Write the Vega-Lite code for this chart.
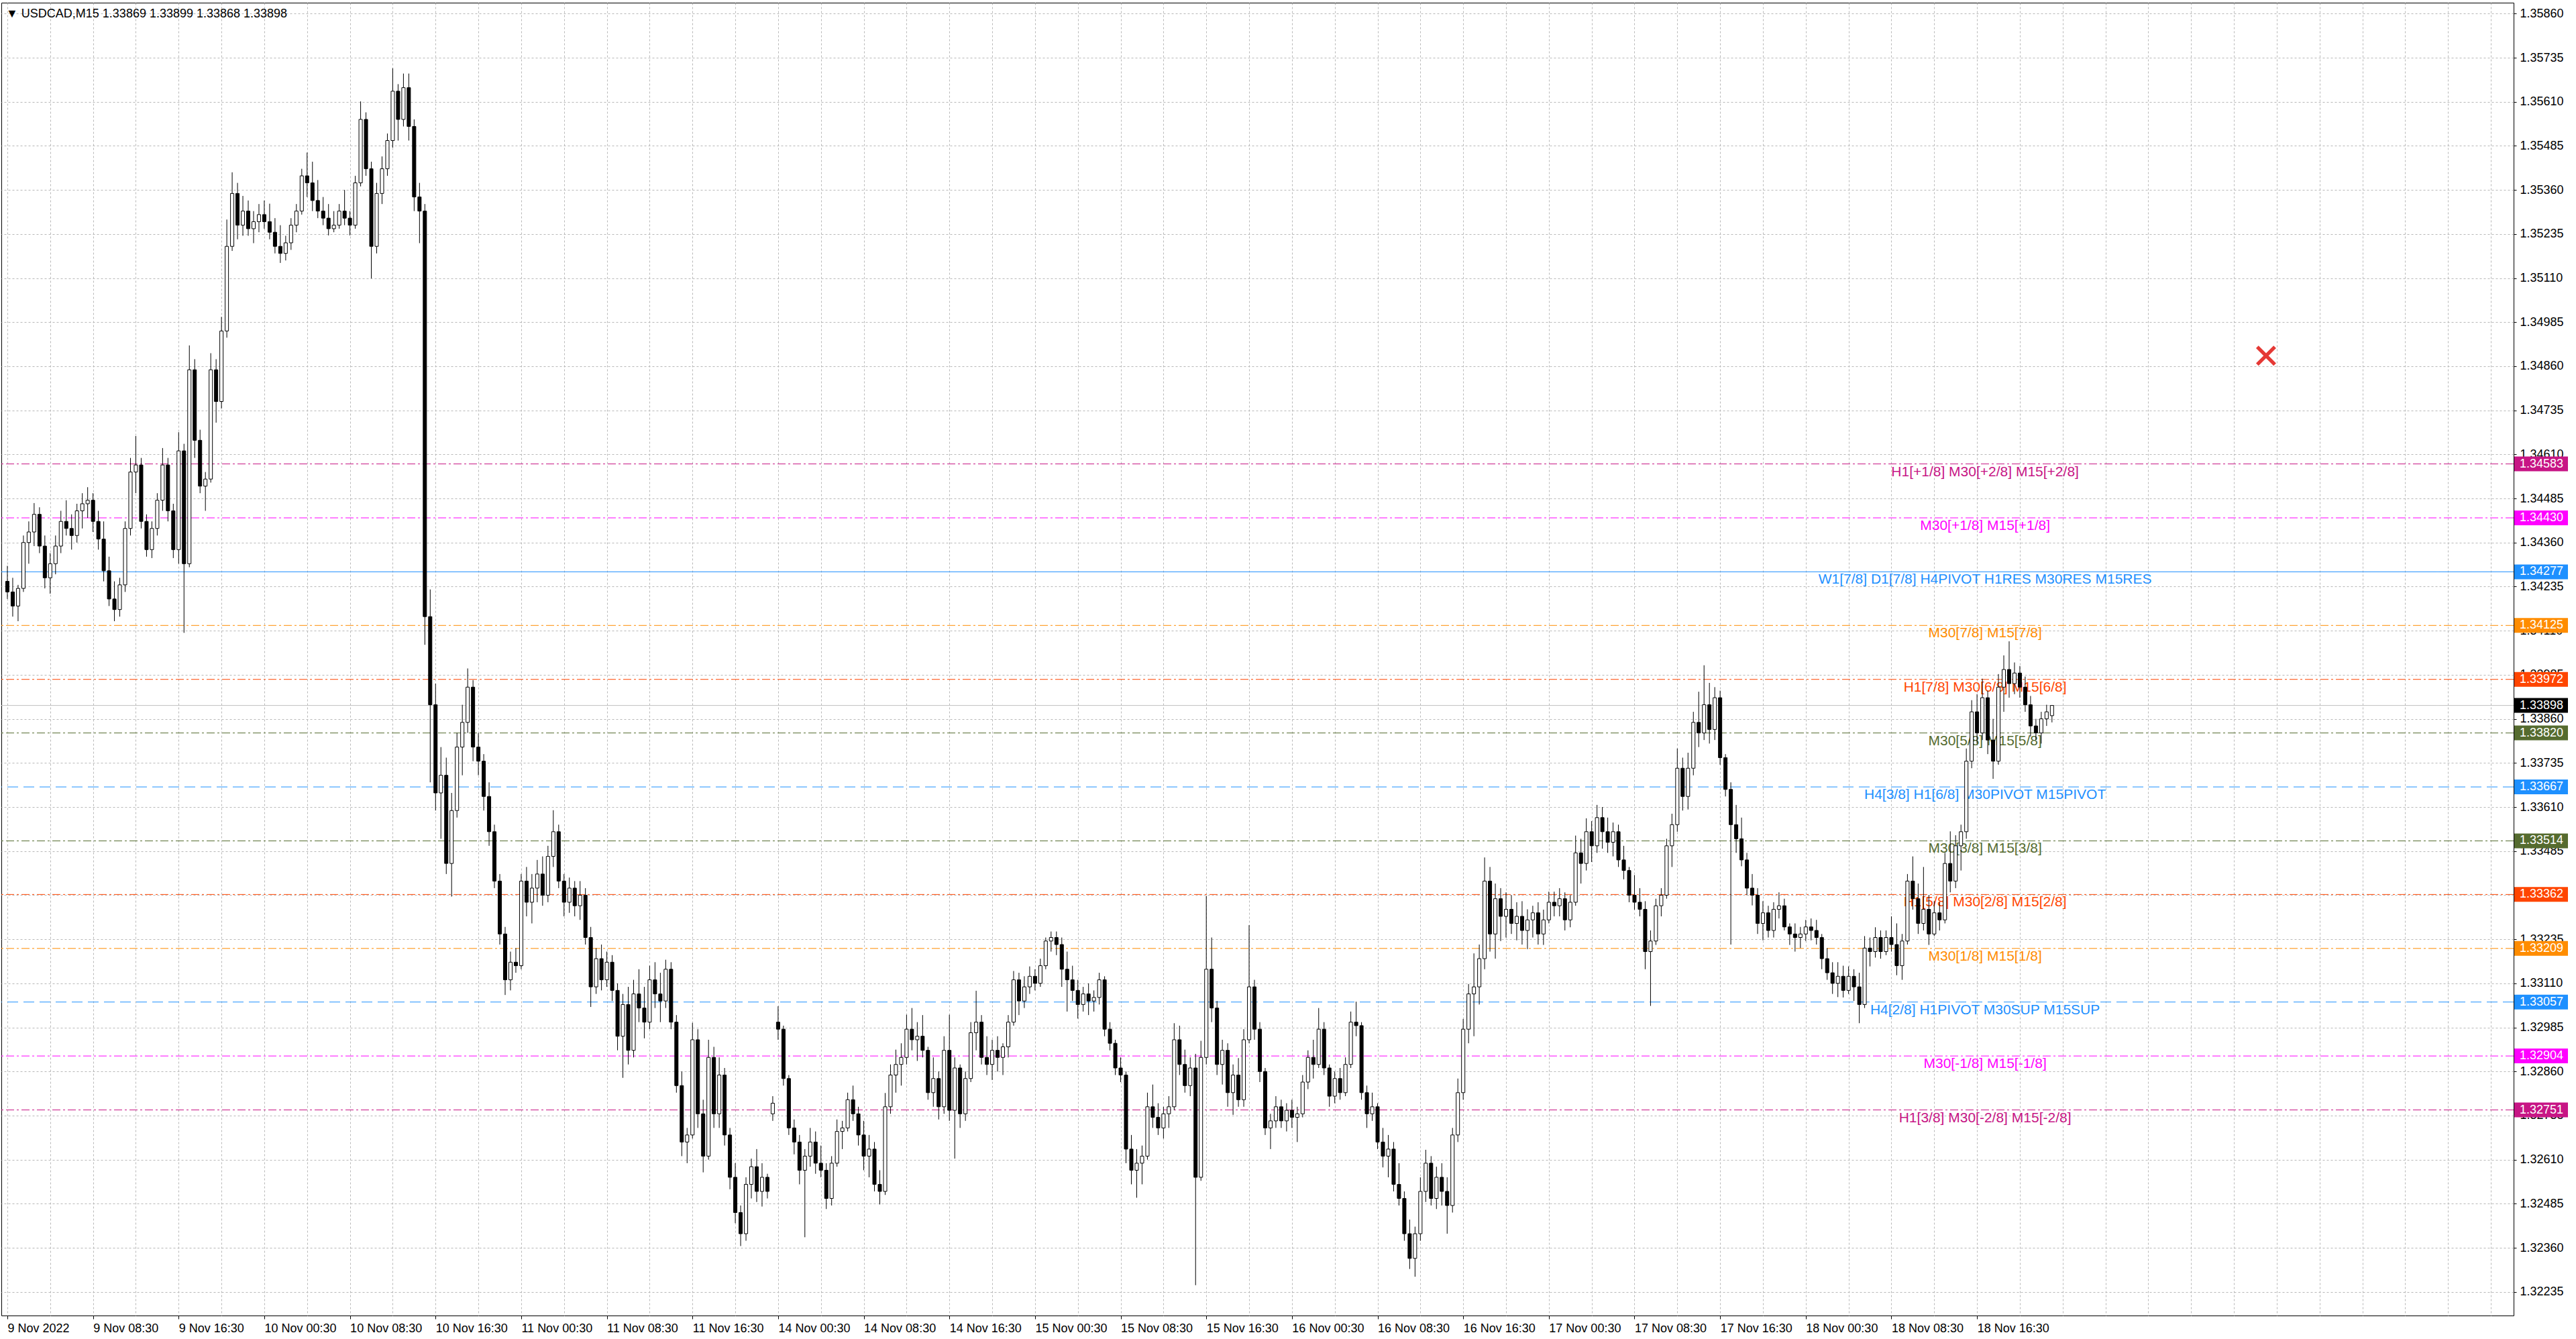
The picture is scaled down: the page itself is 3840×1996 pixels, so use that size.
{
  "$schema": "https://vega.github.io/schema/vega-lite/v6.json",
  "width": 3745,
  "height": 1957,
  "autosize": {"type": "none"},
  "padding": {"left": 2, "top": 4, "right": 93, "bottom": 35},
  "background": "white",
  "title": {
    "text": "▼ USDCAD,M15  1.33869 1.33899 1.33868 1.33898",
    "anchor": "start",
    "frame": "group",
    "offset": -26,
    "dx": 7,
    "font": "Liberation Sans",
    "fontSize": 18,
    "fontWeight": "normal",
    "color": "black"
  },
  "datasets": {
    "levels": [
      {"p": 1.34583, "name": "H1[+1/8] M30[+2/8] M15[+2/8]", "kind": "mvr", "dash": "dd"},
      {"p": 1.34430, "name": "M30[+1/8] M15[+1/8]", "kind": "mag", "dash": "dd"},
      {"p": 1.34277, "name": "W1[7/8] D1[7/8] H4PIVOT H1RES M30RES M15RES", "kind": "blue", "dash": "solid"},
      {"p": 1.34125, "name": "M30[7/8] M15[7/8]", "kind": "orange", "dash": "dd"},
      {"p": 1.33972, "name": "H1[7/8] M30[6/8] M15[6/8]", "kind": "ored", "dash": "dd"},
      {"p": 1.33898, "name": "", "kind": "bid", "dash": "solid"},
      {"p": 1.33820, "name": "M30[5/8] M15[5/8]", "kind": "olive", "dash": "dd"},
      {"p": 1.33667, "name": "H4[3/8] H1[6/8] M30PIVOT M15PIVOT", "kind": "blue", "dash": "dash"},
      {"p": 1.33514, "name": "M30[3/8] M15[3/8]", "kind": "olive", "dash": "dd"},
      {"p": 1.33362, "name": "H1[5/8] M30[2/8] M15[2/8]", "kind": "ored", "dash": "dd"},
      {"p": 1.33209, "name": "M30[1/8] M15[1/8]", "kind": "orange", "dash": "dd"},
      {"p": 1.33057, "name": "H4[2/8] H1PIVOT M30SUP M15SUP", "kind": "blue", "dash": "dash"},
      {"p": 1.32904, "name": "M30[-1/8] M15[-1/8]", "kind": "mag", "dash": "dd"},
      {"p": 1.32751, "name": "H1[3/8] M30[-2/8] M15[-2/8]", "kind": "mvr", "dash": "dd"}
    ],
    "marker": [
      {"t": 844, "p": 1.34890}
    ],
    "candles": [
      {"t":0,"o":1.34250,"h":1.34294,"l":1.34200,"c":1.34220},
      {"t":2,"o":1.34220,"h":1.34260,"l":1.34150,"c":1.34180},
      {"t":4,"o":1.34180,"h":1.34240,"l":1.34137,"c":1.34230},
      {"t":6,"o":1.34230,"h":1.34380,"l":1.34220,"c":1.34360},
      {"t":8,"o":1.34360,"h":1.34420,"l":1.34300,"c":1.34390},
      {"t":10,"o":1.34390,"h":1.34472,"l":1.34350,"c":1.34440},
      {"t":12,"o":1.34440,"h":1.34460,"l":1.34330,"c":1.34350},
      {"t":14,"o":1.34350,"h":1.34380,"l":1.34230,"c":1.34260},
      {"t":16,"o":1.34260,"h":1.34330,"l":1.34215,"c":1.34300},
      {"t":18,"o":1.34300,"h":1.34380,"l":1.34270,"c":1.34350},
      {"t":20,"o":1.34350,"h":1.34450,"l":1.34330,"c":1.34420},
      {"t":22,"o":1.34420,"h":1.34480,"l":1.34380,"c":1.34400},
      {"t":24,"o":1.34400,"h":1.34440,"l":1.34340,"c":1.34380},
      {"t":26,"o":1.34380,"h":1.34470,"l":1.34360,"c":1.34450},
      {"t":28,"o":1.34450,"h":1.34500,"l":1.34400,"c":1.34470},
      {"t":30,"o":1.34470,"h":1.34517,"l":1.34430,"c":1.34480},
      {"t":32,"o":1.34480,"h":1.34500,"l":1.34390,"c":1.34420},
      {"t":34,"o":1.34420,"h":1.34450,"l":1.34340,"c":1.34370},
      {"t":36,"o":1.34370,"h":1.34420,"l":1.34250,"c":1.34280},
      {"t":38,"o":1.34280,"h":1.34320,"l":1.34180,"c":1.34200},
      {"t":40,"o":1.34200,"h":1.34250,"l":1.34137,"c":1.34170},
      {"t":42,"o":1.34170,"h":1.34260,"l":1.34150,"c":1.34240},
      {"t":44,"o":1.34240,"h":1.34420,"l":1.34220,"c":1.34400},
      {"t":46,"o":1.34400,"h":1.34600,"l":1.34380,"c":1.34560},
      {"t":48,"o":1.34560,"h":1.34662,"l":1.34500,"c":1.34580},
      {"t":50,"o":1.34580,"h":1.34600,"l":1.34400,"c":1.34420},
      {"t":52,"o":1.34420,"h":1.34440,"l":1.34320,"c":1.34340},
      {"t":54,"o":1.34340,"h":1.34420,"l":1.34316,"c":1.34400},
      {"t":56,"o":1.34400,"h":1.34500,"l":1.34380,"c":1.34480},
      {"t":58,"o":1.34480,"h":1.34628,"l":1.34450,"c":1.34580},
      {"t":60,"o":1.34580,"h":1.34600,"l":1.34420,"c":1.34450},
      {"t":62,"o":1.34450,"h":1.34470,"l":1.34316,"c":1.34340},
      {"t":64,"o":1.34340,"h":1.34673,"l":1.34300,"c":1.34620},
      {"t":66,"o":1.34620,"h":1.34640,"l":1.34104,"c":1.34300},
      {"t":68,"o":1.34300,"h":1.34919,"l":1.34290,"c":1.34850},
      {"t":70,"o":1.34850,"h":1.34880,"l":1.34600,"c":1.34650},
      {"t":72,"o":1.34650,"h":1.34680,"l":1.34500,"c":1.34520},
      {"t":74,"o":1.34520,"h":1.34560,"l":1.34450,"c":1.34540},
      {"t":76,"o":1.34540,"h":1.34897,"l":1.34530,"c":1.34850},
      {"t":78,"o":1.34850,"h":1.34880,"l":1.34700,"c":1.34760},
      {"t":80,"o":1.34760,"h":1.35000,"l":1.34740,"c":1.34960},
      {"t":82,"o":1.34960,"h":1.35276,"l":1.34941,"c":1.35200},
      {"t":84,"o":1.35200,"h":1.35410,"l":1.35187,"c":1.35350},
      {"t":86,"o":1.35350,"h":1.35380,"l":1.35220,"c":1.35260},
      {"t":88,"o":1.35260,"h":1.35343,"l":1.35230,"c":1.35300},
      {"t":90,"o":1.35300,"h":1.35330,"l":1.35230,"c":1.35250},
      {"t":92,"o":1.35250,"h":1.35300,"l":1.35209,"c":1.35270},
      {"t":94,"o":1.35270,"h":1.35320,"l":1.35240,"c":1.35290},
      {"t":96,"o":1.35290,"h":1.35330,"l":1.35250,"c":1.35270},
      {"t":98,"o":1.35270,"h":1.35321,"l":1.35220,"c":1.35240},
      {"t":100,"o":1.35240,"h":1.35280,"l":1.35180,"c":1.35200},
      {"t":102,"o":1.35200,"h":1.35260,"l":1.35153,"c":1.35180},
      {"t":104,"o":1.35180,"h":1.35230,"l":1.35160,"c":1.35210},
      {"t":106,"o":1.35210,"h":1.35280,"l":1.35190,"c":1.35260},
      {"t":108,"o":1.35260,"h":1.35320,"l":1.35240,"c":1.35300},
      {"t":110,"o":1.35300,"h":1.35420,"l":1.35290,"c":1.35400},
      {"t":112,"o":1.35400,"h":1.35466,"l":1.35340,"c":1.35380},
      {"t":114,"o":1.35380,"h":1.35440,"l":1.35300,"c":1.35330},
      {"t":116,"o":1.35330,"h":1.35388,"l":1.35280,"c":1.35300},
      {"t":118,"o":1.35300,"h":1.35340,"l":1.35260,"c":1.35280},
      {"t":120,"o":1.35280,"h":1.35320,"l":1.35231,"c":1.35250},
      {"t":122,"o":1.35250,"h":1.35300,"l":1.35240,"c":1.35260},
      {"t":124,"o":1.35260,"h":1.35320,"l":1.35250,"c":1.35300},
      {"t":126,"o":1.35300,"h":1.35360,"l":1.35260,"c":1.35280},
      {"t":128,"o":1.35280,"h":1.35300,"l":1.35231,"c":1.35260},
      {"t":130,"o":1.35260,"h":1.35400,"l":1.35250,"c":1.35380},
      {"t":132,"o":1.35380,"h":1.35611,"l":1.35370,"c":1.35560},
      {"t":134,"o":1.35560,"h":1.35580,"l":1.35400,"c":1.35420},
      {"t":136,"o":1.35420,"h":1.35440,"l":1.35109,"c":1.35200},
      {"t":138,"o":1.35200,"h":1.35380,"l":1.35180,"c":1.35350},
      {"t":140,"o":1.35350,"h":1.35455,"l":1.35320,"c":1.35420},
      {"t":142,"o":1.35420,"h":1.35520,"l":1.35400,"c":1.35500},
      {"t":144,"o":1.35500,"h":1.35705,"l":1.35480,"c":1.35640},
      {"t":146,"o":1.35640,"h":1.35660,"l":1.35500,"c":1.35560},
      {"t":148,"o":1.35560,"h":1.35690,"l":1.35540,"c":1.35650},
      {"t":150,"o":1.35650,"h":1.35690,"l":1.35500,"c":1.35540},
      {"t":152,"o":1.35540,"h":1.35560,"l":1.35300,"c":1.35340},
      {"t":154,"o":1.35340,"h":1.35380,"l":1.35209,"c":1.35300},
      {"t":156,"o":1.35300,"h":1.35320,"l":1.34070,"c":1.34150},
      {"t":158,"o":1.34150,"h":1.34227,"l":1.33680,"c":1.33900},
      {"t":160,"o":1.33900,"h":1.33960,"l":1.33600,"c":1.33650},
      {"t":162,"o":1.33650,"h":1.33780,"l":1.33520,"c":1.33700},
      {"t":164,"o":1.33700,"h":1.33750,"l":1.33420,"c":1.33450},
      {"t":166,"o":1.33450,"h":1.33650,"l":1.33356,"c":1.33600},
      {"t":168,"o":1.33600,"h":1.33820,"l":1.33580,"c":1.33780},
      {"t":170,"o":1.33780,"h":1.33900,"l":1.33700,"c":1.33850},
      {"t":172,"o":1.33850,"h":1.34003,"l":1.33820,"c":1.33950},
      {"t":174,"o":1.33950,"h":1.33970,"l":1.33740,"c":1.33780},
      {"t":176,"o":1.33780,"h":1.33820,"l":1.33700,"c":1.33740},
      {"t":178,"o":1.33740,"h":1.33760,"l":1.33600,"c":1.33640},
      {"t":180,"o":1.33640,"h":1.33680,"l":1.33500,"c":1.33540},
      {"t":182,"o":1.33540,"h":1.33560,"l":1.33380,"c":1.33400},
      {"t":184,"o":1.33400,"h":1.33420,"l":1.33220,"c":1.33250},
      {"t":186,"o":1.33250,"h":1.33270,"l":1.33077,"c":1.33120},
      {"t":188,"o":1.33120,"h":1.33200,"l":1.33090,"c":1.33170},
      {"t":190,"o":1.33170,"h":1.33210,"l":1.33140,"c":1.33160},
      {"t":192,"o":1.33160,"h":1.33420,"l":1.33150,"c":1.33400},
      {"t":194,"o":1.33400,"h":1.33440,"l":1.33300,"c":1.33340},
      {"t":196,"o":1.33340,"h":1.33420,"l":1.33280,"c":1.33380},
      {"t":198,"o":1.33380,"h":1.33460,"l":1.33340,"c":1.33420},
      {"t":200,"o":1.33420,"h":1.33470,"l":1.33330,"c":1.33360},
      {"t":202,"o":1.33360,"h":1.33500,"l":1.33340,"c":1.33470},
      {"t":204,"o":1.33470,"h":1.33601,"l":1.33440,"c":1.33540},
      {"t":206,"o":1.33540,"h":1.33560,"l":1.33380,"c":1.33400},
      {"t":208,"o":1.33400,"h":1.33420,"l":1.33300,"c":1.33340},
      {"t":210,"o":1.33340,"h":1.33410,"l":1.33310,"c":1.33380},
      {"t":212,"o":1.33380,"h":1.33400,"l":1.33300,"c":1.33330},
      {"t":214,"o":1.33330,"h":1.33400,"l":1.33290,"c":1.33360},
      {"t":216,"o":1.33360,"h":1.33380,"l":1.33220,"c":1.33240},
      {"t":218,"o":1.33240,"h":1.33270,"l":1.33043,"c":1.33100},
      {"t":220,"o":1.33100,"h":1.33210,"l":1.33080,"c":1.33180},
      {"t":222,"o":1.33180,"h":1.33220,"l":1.33090,"c":1.33120},
      {"t":224,"o":1.33120,"h":1.33200,"l":1.33100,"c":1.33170},
      {"t":226,"o":1.33170,"h":1.33190,"l":1.33060,"c":1.33090},
      {"t":228,"o":1.33090,"h":1.33110,"l":1.32920,"c":1.32960},
      {"t":230,"o":1.32960,"h":1.33080,"l":1.32842,"c":1.33050},
      {"t":232,"o":1.33050,"h":1.33100,"l":1.32880,"c":1.32920},
      {"t":234,"o":1.32920,"h":1.33120,"l":1.32900,"c":1.33080},
      {"t":236,"o":1.33080,"h":1.33150,"l":1.33000,"c":1.33040},
      {"t":238,"o":1.33040,"h":1.33100,"l":1.32954,"c":1.33000},
      {"t":240,"o":1.33000,"h":1.33160,"l":1.32980,"c":1.33120},
      {"t":242,"o":1.33120,"h":1.33170,"l":1.33040,"c":1.33080},
      {"t":244,"o":1.33080,"h":1.33140,"l":1.33000,"c":1.33060},
      {"t":246,"o":1.33060,"h":1.33177,"l":1.33040,"c":1.33150},
      {"t":248,"o":1.33150,"h":1.33170,"l":1.32980,"c":1.33000},
      {"t":250,"o":1.33000,"h":1.33020,"l":1.32800,"c":1.32820},
      {"t":252,"o":1.32820,"h":1.32860,"l":1.32620,"c":1.32660},
      {"t":254,"o":1.32660,"h":1.32700,"l":1.32600,"c":1.32680},
      {"t":256,"o":1.32680,"h":1.32998,"l":1.32670,"c":1.32950},
      {"t":258,"o":1.32950,"h":1.32980,"l":1.32700,"c":1.32740},
      {"t":260,"o":1.32740,"h":1.32780,"l":1.32574,"c":1.32620},
      {"t":262,"o":1.32620,"h":1.32950,"l":1.32610,"c":1.32900},
      {"t":264,"o":1.32900,"h":1.32930,"l":1.32700,"c":1.32740},
      {"t":266,"o":1.32740,"h":1.32900,"l":1.32700,"c":1.32850},
      {"t":268,"o":1.32850,"h":1.32870,"l":1.32650,"c":1.32680},
      {"t":270,"o":1.32680,"h":1.32700,"l":1.32526,"c":1.32560},
      {"t":272,"o":1.32560,"h":1.32600,"l":1.32430,"c":1.32460},
      {"t":274,"o":1.32460,"h":1.32480,"l":1.32365,"c":1.32400},
      {"t":276,"o":1.32400,"h":1.32560,"l":1.32380,"c":1.32540},
      {"t":278,"o":1.32540,"h":1.32613,"l":1.32500,"c":1.32590},
      {"t":280,"o":1.32590,"h":1.32640,"l":1.32490,"c":1.32520},
      {"t":282,"o":1.32520,"h":1.32600,"l":1.32477,"c":1.32560},
      {"t":284,"o":1.32560,"h":1.32570,"l":1.32500,"c":1.32520},
      {"t":286,"o":1.32740,"h":1.32790,"l":1.32720,"c":1.32770},
      {"t":288,"o":1.33000,"h":1.33045,"l":1.32950,"c":1.32980},
      {"t":290,"o":1.32980,"h":1.32990,"l":1.32820,"c":1.32840},
      {"t":292,"o":1.32840,"h":1.32850,"l":1.32680,"c":1.32700},
      {"t":294,"o":1.32700,"h":1.32724,"l":1.32625,"c":1.32660},
      {"t":296,"o":1.32660,"h":1.32680,"l":1.32540,"c":1.32580},
      {"t":298,"o":1.32580,"h":1.32640,"l":1.32390,"c":1.32620},
      {"t":300,"o":1.32620,"h":1.32700,"l":1.32590,"c":1.32660},
      {"t":302,"o":1.32660,"h":1.32690,"l":1.32570,"c":1.32600},
      {"t":304,"o":1.32600,"h":1.32650,"l":1.32560,"c":1.32580},
      {"t":306,"o":1.32580,"h":1.32600,"l":1.32470,"c":1.32500},
      {"t":308,"o":1.32500,"h":1.32620,"l":1.32480,"c":1.32600},
      {"t":310,"o":1.32600,"h":1.32724,"l":1.32590,"c":1.32690},
      {"t":312,"o":1.32690,"h":1.32720,"l":1.32640,"c":1.32700},
      {"t":314,"o":1.32700,"h":1.32800,"l":1.32690,"c":1.32780},
      {"t":316,"o":1.32780,"h":1.32820,"l":1.32720,"c":1.32740},
      {"t":318,"o":1.32740,"h":1.32760,"l":1.32650,"c":1.32680},
      {"t":320,"o":1.32680,"h":1.32720,"l":1.32580,"c":1.32620},
      {"t":322,"o":1.32620,"h":1.32680,"l":1.32560,"c":1.32640},
      {"t":324,"o":1.32640,"h":1.32660,"l":1.32520,"c":1.32540},
      {"t":326,"o":1.32540,"h":1.32580,"l":1.32483,"c":1.32520},
      {"t":328,"o":1.32520,"h":1.32799,"l":1.32510,"c":1.32760},
      {"t":330,"o":1.32760,"h":1.32880,"l":1.32740,"c":1.32850},
      {"t":332,"o":1.32850,"h":1.32922,"l":1.32800,"c":1.32880},
      {"t":334,"o":1.32880,"h":1.32940,"l":1.32820,"c":1.32900},
      {"t":336,"o":1.32900,"h":1.33021,"l":1.32880,"c":1.32980},
      {"t":338,"o":1.32980,"h":1.33040,"l":1.32920,"c":1.32950},
      {"t":340,"o":1.32950,"h":1.33000,"l":1.32890,"c":1.32960},
      {"t":342,"o":1.32960,"h":1.33020,"l":1.32900,"c":1.32920},
      {"t":344,"o":1.32920,"h":1.32930,"l":1.32780,"c":1.32800},
      {"t":346,"o":1.32800,"h":1.32900,"l":1.32760,"c":1.32840},
      {"t":348,"o":1.32840,"h":1.32860,"l":1.32724,"c":1.32760},
      {"t":350,"o":1.32760,"h":1.32960,"l":1.32740,"c":1.32920},
      {"t":352,"o":1.32920,"h":1.33021,"l":1.32720,"c":1.32750},
      {"t":354,"o":1.32750,"h":1.32900,"l":1.32613,"c":1.32870},
      {"t":356,"o":1.32870,"h":1.32880,"l":1.32700,"c":1.32740},
      {"t":358,"o":1.32740,"h":1.32860,"l":1.32720,"c":1.32840},
      {"t":360,"o":1.32840,"h":1.33000,"l":1.32830,"c":1.32970},
      {"t":362,"o":1.32970,"h":1.33089,"l":1.32920,"c":1.33000},
      {"t":364,"o":1.33000,"h":1.33020,"l":1.32880,"c":1.32900},
      {"t":366,"o":1.32900,"h":1.32960,"l":1.32850,"c":1.32880},
      {"t":368,"o":1.32880,"h":1.32950,"l":1.32836,"c":1.32920},
      {"t":370,"o":1.32920,"h":1.32960,"l":1.32860,"c":1.32900},
      {"t":372,"o":1.32900,"h":1.32940,"l":1.32850,"c":1.32930},
      {"t":374,"o":1.32930,"h":1.33020,"l":1.32900,"c":1.33000},
      {"t":376,"o":1.33000,"h":1.33145,"l":1.32990,"c":1.33120},
      {"t":378,"o":1.33120,"h":1.33140,"l":1.33020,"c":1.33060},
      {"t":380,"o":1.33060,"h":1.33130,"l":1.33040,"c":1.33100},
      {"t":382,"o":1.33100,"h":1.33158,"l":1.33080,"c":1.33130},
      {"t":384,"o":1.33130,"h":1.33150,"l":1.33090,"c":1.33110},
      {"t":386,"o":1.33110,"h":1.33180,"l":1.33100,"c":1.33160},
      {"t":388,"o":1.33160,"h":1.33240,"l":1.33150,"c":1.33230},
      {"t":390,"o":1.33230,"h":1.33257,"l":1.33200,"c":1.33240},
      {"t":392,"o":1.33240,"h":1.33257,"l":1.33190,"c":1.33220},
      {"t":394,"o":1.33220,"h":1.33240,"l":1.33100,"c":1.33150},
      {"t":396,"o":1.33150,"h":1.33200,"l":1.33030,"c":1.33120},
      {"t":398,"o":1.33120,"h":1.33160,"l":1.33060,"c":1.33090},
      {"t":400,"o":1.33090,"h":1.33120,"l":1.33010,"c":1.33050},
      {"t":402,"o":1.33050,"h":1.33100,"l":1.33030,"c":1.33080},
      {"t":404,"o":1.33080,"h":1.33110,"l":1.33020,"c":1.33060},
      {"t":406,"o":1.33060,"h":1.33090,"l":1.33030,"c":1.33070},
      {"t":408,"o":1.33070,"h":1.33140,"l":1.33050,"c":1.33120},
      {"t":410,"o":1.33120,"h":1.33130,"l":1.32960,"c":1.32980},
      {"t":412,"o":1.32980,"h":1.33000,"l":1.32920,"c":1.32940},
      {"t":414,"o":1.32940,"h":1.32950,"l":1.32850,"c":1.32870},
      {"t":416,"o":1.32870,"h":1.32900,"l":1.32830,"c":1.32850},
      {"t":418,"o":1.32850,"h":1.32860,"l":1.32600,"c":1.32640},
      {"t":420,"o":1.32640,"h":1.32680,"l":1.32540,"c":1.32580},
      {"t":422,"o":1.32580,"h":1.32640,"l":1.32502,"c":1.32600},
      {"t":424,"o":1.32600,"h":1.32650,"l":1.32540,"c":1.32620},
      {"t":426,"o":1.32620,"h":1.32800,"l":1.32610,"c":1.32760},
      {"t":428,"o":1.32760,"h":1.32823,"l":1.32700,"c":1.32730},
      {"t":430,"o":1.32730,"h":1.32770,"l":1.32680,"c":1.32700},
      {"t":432,"o":1.32700,"h":1.32760,"l":1.32670,"c":1.32740},
      {"t":434,"o":1.32740,"h":1.32790,"l":1.32700,"c":1.32760},
      {"t":436,"o":1.32760,"h":1.32997,"l":1.32750,"c":1.32950},
      {"t":438,"o":1.32950,"h":1.32990,"l":1.32850,"c":1.32880},
      {"t":440,"o":1.32880,"h":1.32922,"l":1.32800,"c":1.32820},
      {"t":442,"o":1.32820,"h":1.32900,"l":1.32790,"c":1.32870},
      {"t":444,"o":1.32870,"h":1.32910,"l":1.32254,"c":1.32560},
      {"t":446,"o":1.32560,"h":1.32947,"l":1.32550,"c":1.32900},
      {"t":448,"o":1.32900,"h":1.33358,"l":1.32880,"c":1.33150},
      {"t":450,"o":1.33150,"h":1.33240,"l":1.33000,"c":1.33040},
      {"t":452,"o":1.33040,"h":1.33060,"l":1.32850,"c":1.32880},
      {"t":454,"o":1.32880,"h":1.32950,"l":1.32823,"c":1.32920},
      {"t":456,"o":1.32920,"h":1.32940,"l":1.32760,"c":1.32800},
      {"t":458,"o":1.32800,"h":1.32880,"l":1.32737,"c":1.32850},
      {"t":460,"o":1.32850,"h":1.32898,"l":1.32760,"c":1.32780},
      {"t":462,"o":1.32780,"h":1.32980,"l":1.32760,"c":1.32950},
      {"t":464,"o":1.32950,"h":1.33275,"l":1.32940,"c":1.33100},
      {"t":466,"o":1.33100,"h":1.33120,"l":1.32950,"c":1.32980},
      {"t":468,"o":1.32980,"h":1.33000,"l":1.32830,"c":1.32860},
      {"t":470,"o":1.32860,"h":1.32870,"l":1.32680,"c":1.32700},
      {"t":472,"o":1.32700,"h":1.32740,"l":1.32640,"c":1.32720},
      {"t":474,"o":1.32720,"h":1.32790,"l":1.32700,"c":1.32760},
      {"t":476,"o":1.32760,"h":1.32780,"l":1.32700,"c":1.32720},
      {"t":478,"o":1.32720,"h":1.32770,"l":1.32690,"c":1.32750},
      {"t":480,"o":1.32750,"h":1.32780,"l":1.32700,"c":1.32730},
      {"t":482,"o":1.32730,"h":1.32760,"l":1.32660,"c":1.32740},
      {"t":484,"o":1.32740,"h":1.32850,"l":1.32730,"c":1.32830},
      {"t":486,"o":1.32830,"h":1.32920,"l":1.32810,"c":1.32900},
      {"t":488,"o":1.32900,"h":1.32950,"l":1.32840,"c":1.32880},
      {"t":490,"o":1.32880,"h":1.33040,"l":1.32870,"c":1.32980},
      {"t":492,"o":1.32980,"h":1.33000,"l":1.32850,"c":1.32870},
      {"t":494,"o":1.32870,"h":1.32880,"l":1.32760,"c":1.32790},
      {"t":496,"o":1.32790,"h":1.32860,"l":1.32770,"c":1.32840},
      {"t":498,"o":1.32840,"h":1.32870,"l":1.32780,"c":1.32800},
      {"t":500,"o":1.32800,"h":1.32900,"l":1.32790,"c":1.32880},
      {"t":502,"o":1.32880,"h":1.33030,"l":1.32870,"c":1.33000},
      {"t":504,"o":1.33000,"h":1.33058,"l":1.32960,"c":1.32990},
      {"t":506,"o":1.32990,"h":1.33000,"l":1.32780,"c":1.32800},
      {"t":508,"o":1.32800,"h":1.32820,"l":1.32700,"c":1.32740},
      {"t":510,"o":1.32740,"h":1.32800,"l":1.32720,"c":1.32760},
      {"t":512,"o":1.32760,"h":1.32770,"l":1.32640,"c":1.32660},
      {"t":514,"o":1.32660,"h":1.32700,"l":1.32588,"c":1.32620},
      {"t":516,"o":1.32620,"h":1.32680,"l":1.32560,"c":1.32640},
      {"t":518,"o":1.32640,"h":1.32660,"l":1.32520,"c":1.32540},
      {"t":520,"o":1.32540,"h":1.32600,"l":1.32480,"c":1.32500},
      {"t":522,"o":1.32500,"h":1.32520,"l":1.32380,"c":1.32400},
      {"t":524,"o":1.32400,"h":1.32440,"l":1.32300,"c":1.32330},
      {"t":526,"o":1.32330,"h":1.32420,"l":1.32278,"c":1.32400},
      {"t":528,"o":1.32400,"h":1.32560,"l":1.32380,"c":1.32520},
      {"t":530,"o":1.32520,"h":1.32638,"l":1.32490,"c":1.32600},
      {"t":532,"o":1.32600,"h":1.32620,"l":1.32480,"c":1.32500},
      {"t":534,"o":1.32500,"h":1.32590,"l":1.32470,"c":1.32560},
      {"t":536,"o":1.32560,"h":1.32600,"l":1.32480,"c":1.32520},
      {"t":538,"o":1.32520,"h":1.32560,"l":1.32400,"c":1.32480},
      {"t":540,"o":1.32480,"h":1.32700,"l":1.32460,"c":1.32680},
      {"t":542,"o":1.32680,"h":1.32840,"l":1.32660,"c":1.32800},
      {"t":544,"o":1.32800,"h":1.33009,"l":1.32780,"c":1.32980},
      {"t":546,"o":1.32980,"h":1.33108,"l":1.32940,"c":1.33080},
      {"t":548,"o":1.33080,"h":1.33195,"l":1.32960,"c":1.33100},
      {"t":550,"o":1.33100,"h":1.33220,"l":1.33050,"c":1.33180},
      {"t":552,"o":1.33180,"h":1.33467,"l":1.33150,"c":1.33400},
      {"t":554,"o":1.33400,"h":1.33440,"l":1.33200,"c":1.33250},
      {"t":556,"o":1.33250,"h":1.33393,"l":1.33180,"c":1.33350},
      {"t":558,"o":1.33350,"h":1.33380,"l":1.33230,"c":1.33300},
      {"t":560,"o":1.33300,"h":1.33368,"l":1.33240,"c":1.33320},
      {"t":562,"o":1.33320,"h":1.33360,"l":1.33250,"c":1.33280},
      {"t":564,"o":1.33280,"h":1.33340,"l":1.33232,"c":1.33300},
      {"t":566,"o":1.33300,"h":1.33343,"l":1.33220,"c":1.33260},
      {"t":568,"o":1.33260,"h":1.33320,"l":1.33207,"c":1.33290},
      {"t":570,"o":1.33290,"h":1.33330,"l":1.33240,"c":1.33310},
      {"t":572,"o":1.33310,"h":1.33340,"l":1.33220,"c":1.33250},
      {"t":574,"o":1.33250,"h":1.33319,"l":1.33219,"c":1.33290},
      {"t":576,"o":1.33290,"h":1.33370,"l":1.33280,"c":1.33340},
      {"t":578,"o":1.33340,"h":1.33370,"l":1.33300,"c":1.33330},
      {"t":580,"o":1.33330,"h":1.33380,"l":1.33300,"c":1.33350},
      {"t":582,"o":1.33350,"h":1.33368,"l":1.33260,"c":1.33290},
      {"t":584,"o":1.33290,"h":1.33360,"l":1.33269,"c":1.33340},
      {"t":586,"o":1.33340,"h":1.33529,"l":1.33330,"c":1.33480},
      {"t":588,"o":1.33480,"h":1.33520,"l":1.33393,"c":1.33450},
      {"t":590,"o":1.33450,"h":1.33578,"l":1.33430,"c":1.33540},
      {"t":592,"o":1.33540,"h":1.33570,"l":1.33454,"c":1.33500},
      {"t":594,"o":1.33500,"h":1.33616,"l":1.33480,"c":1.33580},
      {"t":596,"o":1.33580,"h":1.33610,"l":1.33492,"c":1.33540},
      {"t":598,"o":1.33540,"h":1.33580,"l":1.33480,"c":1.33510},
      {"t":600,"o":1.33510,"h":1.33566,"l":1.33470,"c":1.33540},
      {"t":602,"o":1.33540,"h":1.33560,"l":1.33440,"c":1.33460},
      {"t":604,"o":1.33460,"h":1.33500,"l":1.33405,"c":1.33430},
      {"t":606,"o":1.33430,"h":1.33440,"l":1.33340,"c":1.33360},
      {"t":608,"o":1.33360,"h":1.33417,"l":1.33319,"c":1.33340},
      {"t":610,"o":1.33340,"h":1.33380,"l":1.33300,"c":1.33320},
      {"t":612,"o":1.33320,"h":1.33343,"l":1.33150,"c":1.33200},
      {"t":614,"o":1.33200,"h":1.33260,"l":1.33046,"c":1.33230},
      {"t":616,"o":1.33230,"h":1.33350,"l":1.33219,"c":1.33330},
      {"t":618,"o":1.33330,"h":1.33380,"l":1.33300,"c":1.33360},
      {"t":620,"o":1.33360,"h":1.33520,"l":1.33350,"c":1.33500},
      {"t":622,"o":1.33500,"h":1.33591,"l":1.33440,"c":1.33560},
      {"t":624,"o":1.33560,"h":1.33776,"l":1.33540,"c":1.33720},
      {"t":626,"o":1.33720,"h":1.33750,"l":1.33600,"c":1.33640},
      {"t":628,"o":1.33640,"h":1.33764,"l":1.33603,"c":1.33720},
      {"t":630,"o":1.33720,"h":1.33880,"l":1.33700,"c":1.33850},
      {"t":632,"o":1.33850,"h":1.33937,"l":1.33780,"c":1.33820},
      {"t":634,"o":1.33820,"h":1.34012,"l":1.33800,"c":1.33900},
      {"t":636,"o":1.33900,"h":1.33962,"l":1.33790,"c":1.33830},
      {"t":638,"o":1.33830,"h":1.33950,"l":1.33800,"c":1.33920},
      {"t":640,"o":1.33920,"h":1.33940,"l":1.33730,"c":1.33750},
      {"t":642,"o":1.33750,"h":1.33760,"l":1.33640,"c":1.33660},
      {"t":644,"o":1.33660,"h":1.33680,"l":1.33220,"c":1.33560},
      {"t":646,"o":1.33560,"h":1.33616,"l":1.33480,"c":1.33520},
      {"t":648,"o":1.33520,"h":1.33580,"l":1.33442,"c":1.33460},
      {"t":650,"o":1.33460,"h":1.33480,"l":1.33360,"c":1.33380},
      {"t":652,"o":1.33380,"h":1.33420,"l":1.33331,"c":1.33360},
      {"t":654,"o":1.33360,"h":1.33380,"l":1.33250,"c":1.33280},
      {"t":656,"o":1.33280,"h":1.33343,"l":1.33232,"c":1.33310},
      {"t":658,"o":1.33310,"h":1.33330,"l":1.33240,"c":1.33260},
      {"t":660,"o":1.33260,"h":1.33340,"l":1.33240,"c":1.33320},
      {"t":662,"o":1.33320,"h":1.33368,"l":1.33294,"c":1.33330},
      {"t":664,"o":1.33330,"h":1.33350,"l":1.33260,"c":1.33270},
      {"t":666,"o":1.33270,"h":1.33280,"l":1.33219,"c":1.33250},
      {"t":668,"o":1.33250,"h":1.33280,"l":1.33200,"c":1.33240},
      {"t":670,"o":1.33240,"h":1.33270,"l":1.33210,"c":1.33250},
      {"t":672,"o":1.33250,"h":1.33290,"l":1.33230,"c":1.33270},
      {"t":674,"o":1.33270,"h":1.33294,"l":1.33232,"c":1.33260},
      {"t":676,"o":1.33260,"h":1.33290,"l":1.33220,"c":1.33240},
      {"t":678,"o":1.33240,"h":1.33250,"l":1.33150,"c":1.33180},
      {"t":680,"o":1.33180,"h":1.33210,"l":1.33120,"c":1.33140},
      {"t":682,"o":1.33140,"h":1.33170,"l":1.33080,"c":1.33110},
      {"t":684,"o":1.33110,"h":1.33170,"l":1.33071,"c":1.33130},
      {"t":686,"o":1.33130,"h":1.33160,"l":1.33070,"c":1.33090},
      {"t":688,"o":1.33090,"h":1.33158,"l":1.33080,"c":1.33130},
      {"t":690,"o":1.33130,"h":1.33150,"l":1.33060,"c":1.33100},
      {"t":692,"o":1.33100,"h":1.33140,"l":1.32997,"c":1.33050},
      {"t":694,"o":1.33050,"h":1.33244,"l":1.33040,"c":1.33210},
      {"t":696,"o":1.33210,"h":1.33240,"l":1.33158,"c":1.33200},
      {"t":698,"o":1.33200,"h":1.33269,"l":1.33183,"c":1.33240},
      {"t":700,"o":1.33240,"h":1.33260,"l":1.33180,"c":1.33200},
      {"t":702,"o":1.33200,"h":1.33260,"l":1.33190,"c":1.33240},
      {"t":704,"o":1.33240,"h":1.33300,"l":1.33200,"c":1.33220},
      {"t":706,"o":1.33220,"h":1.33280,"l":1.33133,"c":1.33160},
      {"t":708,"o":1.33160,"h":1.33250,"l":1.33120,"c":1.33230},
      {"t":710,"o":1.33230,"h":1.33420,"l":1.33220,"c":1.33400},
      {"t":712,"o":1.33400,"h":1.33470,"l":1.33319,"c":1.33350},
      {"t":714,"o":1.33350,"h":1.33393,"l":1.33250,"c":1.33280},
      {"t":716,"o":1.33280,"h":1.33440,"l":1.33260,"c":1.33320},
      {"t":718,"o":1.33320,"h":1.33360,"l":1.33219,"c":1.33250},
      {"t":720,"o":1.33250,"h":1.33343,"l":1.33244,"c":1.33310},
      {"t":722,"o":1.33310,"h":1.33340,"l":1.33260,"c":1.33290},
      {"t":724,"o":1.33290,"h":1.33480,"l":1.33280,"c":1.33450},
      {"t":726,"o":1.33450,"h":1.33541,"l":1.33368,"c":1.33400},
      {"t":728,"o":1.33400,"h":1.33530,"l":1.33380,"c":1.33500},
      {"t":730,"o":1.33500,"h":1.33560,"l":1.33430,"c":1.33540},
      {"t":732,"o":1.33540,"h":1.33776,"l":1.33520,"c":1.33740},
      {"t":734,"o":1.33740,"h":1.33913,"l":1.33720,"c":1.33880},
      {"t":736,"o":1.33880,"h":1.33930,"l":1.33790,"c":1.33820},
      {"t":738,"o":1.33820,"h":1.33974,"l":1.33800,"c":1.33920},
      {"t":740,"o":1.33920,"h":1.33940,"l":1.33760,"c":1.33800},
      {"t":742,"o":1.33800,"h":1.33860,"l":1.33690,"c":1.33740},
      {"t":744,"o":1.33740,"h":1.33987,"l":1.33730,"c":1.33950},
      {"t":746,"o":1.33950,"h":1.34040,"l":1.33880,"c":1.34000},
      {"t":748,"o":1.34000,"h":1.34080,"l":1.33920,"c":1.33960},
      {"t":750,"o":1.33960,"h":1.34020,"l":1.33930,"c":1.33990},
      {"t":752,"o":1.33990,"h":1.34010,"l":1.33920,"c":1.33950},
      {"t":754,"o":1.33950,"h":1.33980,"l":1.33880,"c":1.33900},
      {"t":756,"o":1.33900,"h":1.33925,"l":1.33810,"c":1.33840},
      {"t":758,"o":1.33840,"h":1.33860,"l":1.33800,"c":1.33820},
      {"t":760,"o":1.33820,"h":1.33880,"l":1.33790,"c":1.33860},
      {"t":762,"o":1.33860,"h":1.33900,"l":1.33840,"c":1.33880},
      {"t":764,"o":1.33869,"h":1.33899,"l":1.33850,"c":1.33898}
    ]
  },
  "layer": [
    {
      "data": {"name": "levels"},
      "mark": {"type": "rule", "strokeWidth": 1},
      "encoding": {
        "y": {"field": "p", "type": "quantitative", "scale": {"domain": [1.32168, 1.35891], "nice": false, "zero": false}},
        "stroke": {
          "field": "kind", "type": "nominal", "legend": null,
          "scale": {"domain": ["mvr", "mag", "blue", "orange", "ored", "olive", "bid"],
                    "range": ["#C71585", "#FF00FF", "#1E90FF", "#FF8C00", "#FF4500", "#556B2F", "#C0C0C0"]}
        },
        "strokeDash": {
          "field": "dash", "type": "nominal", "legend": null,
          "scale": {"domain": ["dd", "dash", "solid"], "range": [[12, 4, 3, 4], [16, 8], [1, 0]]}
        }
      }
    },
    {
      "data": {"name": "levels"},
      "mark": {"type": "text", "align": "center", "baseline": "top", "dy": 1, "font": "Liberation Sans", "fontSize": 21},
      "encoding": {
        "x": {"datum": 739, "type": "quantitative"},
        "y": {"field": "p", "type": "quantitative", "scale": {"domain": [1.32168, 1.35891], "nice": false, "zero": false}},
        "text": {"field": "name"},
        "fill": {
          "field": "kind", "type": "nominal", "legend": null,
          "scale": {"domain": ["mvr", "mag", "blue", "orange", "ored", "olive", "bid"],
                    "range": ["#C71585", "#FF00FF", "#1E90FF", "#FF8C00", "#FF4500", "#556B2F", "#000000"]}
        }
      }
    },
    {
      "data": {"name": "candles"},
      "mark": {"type": "rule", "color": "black", "strokeWidth": 1},
      "encoding": {
        "x": {
          "field": "t", "type": "quantitative",
          "scale": {"domain": [-1, 935.25], "nice": false, "zero": false},
          "axis": {
            "title": null,
            "grid": true,
            "gridOpacity": 1,
            "values": [0, 16, 32, 48, 64, 80, 96, 112, 128, 144, 160, 176, 192, 208, 224, 240, 256, 272, 288, 304, 320, 336, 352, 368, 384, 400, 416, 432, 448, 464, 480, 496, 512, 528, 544, 560, 576, 592, 608, 624, 640, 656, 672, 688, 704, 720, 736, 752, 768, 784, 800, 816, 832, 848, 864, 880, 896, 912, 928],
            "labelExpr": "datum.value % 32 == 0 && datum.value <= 736 ? ['9 Nov 2022','9 Nov 08:30','9 Nov 16:30','10 Nov 00:30','10 Nov 08:30','10 Nov 16:30','11 Nov 00:30','11 Nov 08:30','11 Nov 16:30','14 Nov 00:30','14 Nov 08:30','14 Nov 16:30','15 Nov 00:30','15 Nov 08:30','15 Nov 16:30','16 Nov 00:30','16 Nov 08:30','16 Nov 16:30','17 Nov 00:30','17 Nov 08:30','17 Nov 16:30','18 Nov 00:30','18 Nov 08:30','18 Nov 16:30'][datum.value / 32] : ''",
            "labelAlign": "left",
            "labelBaseline": "top",
            "labelPadding": 5,
            "tickSize": 5,
            "tickOpacity": {"condition": {"test": "datum.value % 32 == 0 && datum.value <= 736", "value": 1}, "value": 0}
          }
        },
        "y": {
          "field": "l", "type": "quantitative",
          "scale": {"domain": [1.32168, 1.35891], "nice": false, "zero": false},
          "axis": {
            "title": null,
            "grid": true,
            "gridOpacity": 1,
            "orient": "right",
            "values": [1.35860, 1.35735, 1.35610, 1.35485, 1.35360, 1.35235, 1.35110, 1.34985, 1.34860, 1.34735, 1.34610, 1.34485, 1.34360, 1.34235, 1.34110, 1.33985, 1.33860, 1.33735, 1.33610, 1.33485, 1.33360, 1.33235, 1.33110, 1.32985, 1.32860, 1.32735, 1.32610, 1.32485, 1.32360, 1.32235],
            "format": ".5f",
            "tickSize": 4,
            "labelPadding": 5,
            "labelBaseline": "middle"
          }
        },
        "y2": {"field": "h"}
      }
    },
    {
      "data": {"name": "candles"},
      "mark": {"type": "bar", "size": 5, "stroke": "black", "strokeWidth": 1},
      "encoding": {
        "x": {"field": "t", "type": "quantitative", "scale": {"domain": [-1, 935.25], "nice": false, "zero": false}},
        "y": {"field": "o", "type": "quantitative", "scale": {"domain": [1.32168, 1.35891], "nice": false, "zero": false}},
        "y2": {"field": "c"},
        "fill": {"condition": {"test": "datum.c >= datum.o", "value": "white"}, "value": "black"}
      }
    },
    {
      "data": {"name": "levels"},
      "mark": {"type": "point", "shape": "M-1,-0.275H1V0.275H-1Z", "filled": true, "size": 6400, "opacity": 1, "strokeWidth": 0, "xOffset": 41},
      "encoding": {
        "x": {"value": "width"},
        "y": {"field": "p", "type": "quantitative", "scale": {"domain": [1.32168, 1.35891], "nice": false, "zero": false}},
        "fill": {"field": "kind", "type": "nominal", "legend": null}
      }
    },
    {
      "data": {"name": "levels"},
      "mark": {"type": "text", "align": "left", "baseline": "middle", "dx": 9, "color": "white", "font": "Liberation Sans", "fontSize": 18},
      "encoding": {
        "x": {"value": "width"},
        "y": {"field": "p", "type": "quantitative", "scale": {"domain": [1.32168, 1.35891], "nice": false, "zero": false}},
        "text": {"field": "p", "type": "quantitative", "format": ".5f"}
      }
    },
    {
      "data": {"name": "marker"},
      "mark": {"type": "point", "shape": "M-1,-0.75L-0.75,-1L0,-0.25L0.75,-1L1,-0.75L0.25,0L1,0.75L0.75,1L0,0.25L-0.75,1L-1,0.75L-0.25,0Z", "filled": true, "size": 900, "opacity": 1, "color": "#E53935", "strokeWidth": 0},
      "encoding": {
        "x": {"field": "t", "type": "quantitative", "scale": {"domain": [-1, 935.25], "nice": false, "zero": false}},
        "y": {"field": "p", "type": "quantitative", "scale": {"domain": [1.32168, 1.35891], "nice": false, "zero": false}}
      }
    }
  ],
  "config": {
    "view": {"stroke": "black", "strokeWidth": 1},
    "axis": {
      "labelFont": "Liberation Sans",
      "labelFontSize": 18,
      "labelColor": "black",
      "tickColor": "black",
      "gridColor": "#b8b8b8",
      "gridDash": [3, 3],
      "gridWidth": 1,
      "domain": false,
      "labelOverlap": false,
      "labelFlush": false
    }
  }
}
